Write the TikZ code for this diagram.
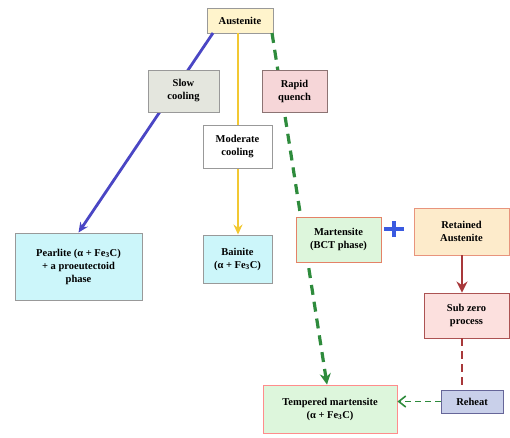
\documentclass[tikz,border=0pt]{standalone}
\usepackage{fontspec}
\setmainfont{Liberation Serif}
\usetikzlibrary{arrows.meta}
\definecolor{cyanbox}{HTML}{CCF6FA}
\definecolor{yelbox}{HTML}{FFF4CC}
\definecolor{graybox}{HTML}{E4E6DE}
\definecolor{pinkbox}{HTML}{F6D6D8}
\definecolor{greenbox}{HTML}{DDF6DC}
\definecolor{orbox}{HTML}{FDEBCB}
\definecolor{subbox}{HTML}{FCE0DE}
\definecolor{rehbox}{HTML}{C9D0EA}
\definecolor{blueln}{HTML}{4A46C4}
\definecolor{yelln}{HTML}{F2C832}
\definecolor{greenln}{HTML}{2E8B3C}
\definecolor{redln}{HTML}{A8383A}
\definecolor{plusblue}{HTML}{3A5AE0}
\tikzset{
  box/.style={draw=gray!80, line width=0.9pt, align=center, font=\bfseries\fontsize{10.5}{13}\selectfont, inner sep=0pt, minimum width=#1},
  box/.default=60pt,
}
\begin{document}
\begin{tikzpicture}[x=1pt,y=-1pt]
\useasboundingbox (0,0) rectangle (510,437);
\coordinate (austc) at (240,20.5);
\coordinate (pearc) at (78.5,266.5);
\coordinate (bainc) at (237.5,259);
\coordinate (tempc) at (330,409);
\node[box=66pt, minimum height=25pt, fill=yelbox] (aust) at (austc) {Austenite};
\node[box=127pt, minimum height=67pt, fill=cyanbox] (pear) at (pearc) {Pearlite (α + Fe\textsubscript{3}C)\\+ a proeutectoid\\phase};
\node[box=69pt, minimum height=48pt, fill=cyanbox] (bain) at (bainc) {Bainite\\(α + Fe\textsubscript{3}C)};
\node[box=134pt, minimum height=48pt, fill=greenbox, draw=red!45] (temp) at (tempc) {Tempered martensite\\(α + Fe\textsubscript{3}C)};
\draw[blueln, line width=2.8pt, -{Stealth[length=10pt,width=9pt]}] (213,33) -- (pear.north);
\draw[yelln, line width=2.3pt, -{Stealth[length=10pt,width=9pt]}] (238,33) -- (bain.north -| 238,0);
\draw[greenln, line width=3.2pt, dash pattern=on 10pt off 7pt, -{Stealth[length=11pt,width=11pt]}] (272,33) -- (temp.north -| 327,0);
\node[box=71pt, minimum height=42pt, fill=graybox] (slow) at (183.5,91) {Slow\\cooling};
\node[box=65pt, minimum height=42pt, fill=pinkbox, draw=gray!90!red] (rapid) at (294.5,91) {Rapid\\quench};
\node[box=69pt, minimum height=43pt, fill=white] (mod) at (237.5,146.5) {Moderate\\cooling};
\node[box=85pt, minimum height=45pt, fill=greenbox, draw=brown!60!red!70] (mart) at (338.5,239.5) {Martensite\\(BCT phase)};
\node[box=95pt, minimum height=47pt, fill=orbox, draw=brown!60!red!60] (ret) at (461.5,231.5) {Retained\\Austenite};
\node[box=85pt, minimum height=45pt, fill=subbox, draw=red!35!gray] (sub) at (466.5,315.5) {Sub zero\\process};
\node[box=62pt, minimum height=23pt, fill=rehbox, draw=gray!80!blue] (reh) at (472,401.5) {Reheat};
\coordinate (plus) at (394,229);
\draw[plusblue, line width=4pt] ([xshift=-10pt]plus) -- ([xshift=10pt]plus) ([yshift=-8pt]plus) -- ([yshift=8pt]plus);
\draw[redln, line width=2.5pt, -{Stealth[length=11pt,width=11pt]}] (ret.south -| 462,0) -- (sub.north -| 462,0);
\draw[redln, line width=2.5pt, dash pattern=on 8pt off 5pt] (sub.south -| 462,0) -- (reh.north -| 462,0);
\draw[greenln, line width=1.6pt, dash pattern=on 6pt off 4pt, -{Straight Barb[length=7pt,width=11pt]}] (reh.west) -- (temp.east |- reh.west);
\end{tikzpicture}
\end{document}
